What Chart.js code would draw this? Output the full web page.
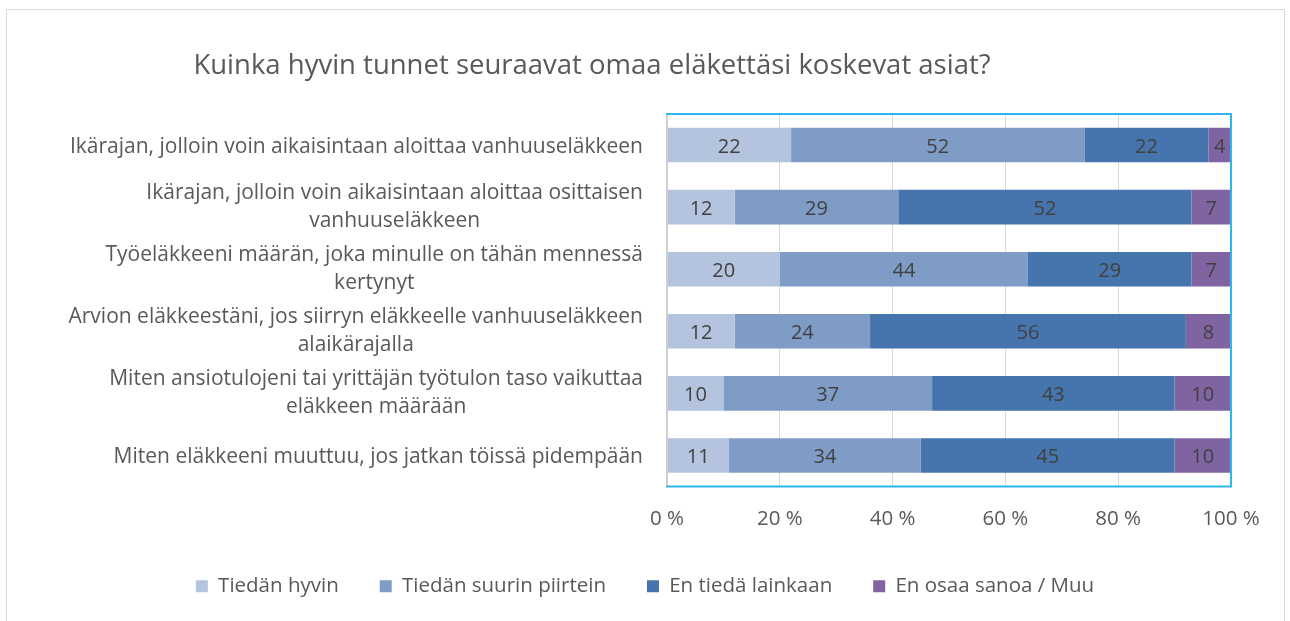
<!DOCTYPE html>
<html>
<head>
<meta charset="utf-8">
<script src="https://cdn.jsdelivr.net/npm/chart.js@4.4.1/dist/chart.umd.min.js"></script>
<style>
  html, body { margin: 0; padding: 0; background: #ffffff; }
  #wrap { position: relative; width: 1290px; height: 621px; }
  canvas { display: block; }
</style>
</head>
<body>
<div id="wrap"><canvas id="c" width="1290" height="621"></canvas></div>
<script>
const titleText = "Kuinka hyvin tunnet seuraavat omaa eläkettäsi koskevat asiat?";
const categories = [
  ["Ikärajan, jolloin voin aikaisintaan aloittaa vanhuuseläkkeen"],
  ["Ikärajan, jolloin voin aikaisintaan aloittaa osittaisen", "vanhuuseläkkeen"],
  ["Työeläkkeeni määrän, joka minulle on tähän mennessä", "kertynyt"],
  ["Arvion eläkkeestäni, jos siirryn eläkkeelle vanhuuseläkkeen", "alaikärajalla"],
  ["Miten ansiotulojeni tai yrittäjän työtulon taso vaikuttaa", "eläkkeen määrään"],
  ["Miten eläkkeeni muuttuu, jos jatkan töissä pidempään"]
];
const seriesNames = ["Tiedän hyvin", "Tiedän suurin piirtein", "En tiedä lainkaan", "En osaa sanoa / Muu"];
const tiedanHyvin = [22, 12, 20, 12, 10, 11];
const tiedanSuurinPiirtein = [52, 29, 44, 24, 37, 34];
const enTieda = [22, 52, 29, 56, 43, 45];
const enOsaaSanoa = [4, 7, 7, 8, 10, 10];
const xTicks = [0, 20, 40, 60, 80, 100];
const seriesColors = ["#B4C3DE", "#7F9CC6", "#4675AD", "#8064A2"];

const FONT = "'Open Sans', 'Noto Sans', sans-serif";
const TEXT = "#595959";

const decorPlugin = {
  id: 'decor',
  beforeDraw(chart) {
    const ctx = chart.ctx;
    ctx.save();
    ctx.strokeStyle = '#d9d9d9';
    ctx.lineWidth = 1;
    ctx.strokeRect(6.5, 9.5, 1278, 640);
    ctx.restore();
  },
  afterDatasetsDraw(chart) {
    const ctx = chart.ctx;
    const a = chart.chartArea;
    ctx.save();
    // data labels
    ctx.font = "20px " + FONT;
    ctx.fillStyle = '#404040';
    ctx.textAlign = 'center';
    ctx.textBaseline = 'middle';
    chart.data.datasets.forEach((ds, di) => {
      const meta = chart.getDatasetMeta(di);
      meta.data.forEach((bar, i) => {
        const p = bar.getProps(['x', 'y', 'base'], true);
        ctx.fillText(String(ds.data[i]), (p.x + p.base) / 2, p.y + 2);
      });
    });
    // plot area border
    ctx.strokeStyle = '#2DB7EE';
    ctx.lineWidth = 2;
    ctx.strokeRect(a.left, a.top, a.right - a.left, a.bottom - a.top);
    ctx.strokeStyle = '#d0d0d0';
    ctx.lineWidth = 2;
    ctx.beginPath();
    ctx.moveTo(a.left, a.top + 1);
    ctx.lineTo(a.left, a.bottom - 1);
    ctx.stroke();
    // category labels
    const ys = chart.scales.y;
    ctx.font = "21px " + FONT;
    ctx.fillStyle = TEXT;
    ctx.textAlign = 'center';
    const right = a.left - 24;
    const lh = 28;
    chart.data.labels.forEach((lines, i) => {
      const single = lines.length === 1;
      const cy = ys.getPixelForValue(i) + (single ? 2 : 0);
      let w = 0;
      lines.forEach(l => { w = Math.max(w, ctx.measureText(l).width); });
      const cx = right - w / 2;
      const y0 = cy - (lines.length - 1) * lh / 2;
      lines.forEach((l, k) => ctx.fillText(l, cx, y0 + k * lh));
    });
    // title
    ctx.font = "27.5px " + FONT;
    ctx.fillStyle = TEXT;
    ctx.textAlign = 'center';
    ctx.fillText(titleText, 592, 66);
    ctx.restore();
  }
};

new Chart(document.getElementById('c'), {
  type: 'bar',
  data: {
    labels: categories,
    datasets: [
      { label: seriesNames[0], data: tiedanHyvin, backgroundColor: seriesColors[0] },
      { label: seriesNames[1], data: tiedanSuurinPiirtein, backgroundColor: seriesColors[1] },
      { label: seriesNames[2], data: enTieda, backgroundColor: seriesColors[2] },
      { label: seriesNames[3], data: enOsaaSanoa, backgroundColor: seriesColors[3] }
    ]
  },
  options: {
    indexAxis: 'y',
    responsive: false,
    animation: false,
    devicePixelRatio: 1,
    datasets: { bar: { categoryPercentage: 1, barPercentage: 0.556, borderWidth: 0 } },
    layout: { padding: { top: 114, bottom: 14.5, left: 0, right: 0 } },
    scales: {
      x: {
        stacked: true,
        min: 0, max: 100,
        afterBuildTicks: (s) => { s.ticks = xTicks.map(v => ({ value: v })); },
        afterFit: (s) => { s.height = 48.5; },
        grid: { color: '#d9d9d9', lineWidth: 1, drawTicks: false },
        border: { display: false },
        ticks: { padding: 20, color: TEXT, font: { family: FONT, size: 20.5 }, callback: (v) => v + ' %' }
      },
      y: {
        stacked: true,
        afterFit: (s) => { s.width = 667; },
        grid: { display: false },
        border: { display: false },
        ticks: { display: false }
      },
      yRight: {
        type: 'category',
        position: 'right',
        afterFit: (s) => { s.width = 59; },
        grid: { display: false },
        border: { display: false },
        ticks: { display: false }
      }
    },
    plugins: {
      title: { display: false },
      tooltip: { enabled: false },
      legend: {
        position: 'bottom',
        labels: {
          boxWidth: 12, boxHeight: 12, padding: 41,
          color: TEXT, font: { family: FONT, size: 20.5 }
        }
      }
    }
  },
  plugins: [decorPlugin]
});
</script>
</body>
</html>
